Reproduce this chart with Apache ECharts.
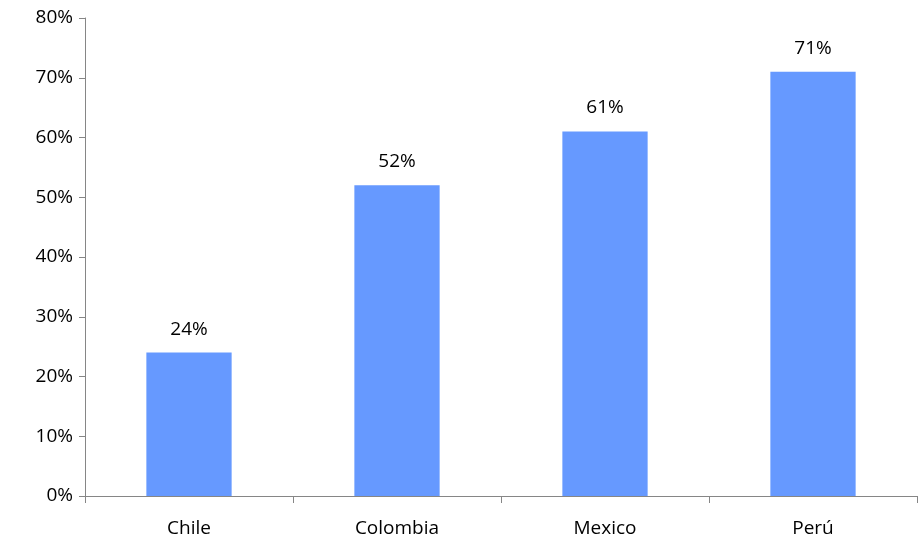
<!DOCTYPE html>
<html>
<head>
<meta charset="utf-8">
<script src="https://cdn.jsdelivr.net/npm/echarts@6/dist/echarts.min.js"></script>
<style>html,body{margin:0;padding:0;background:#fff}</style>
</head>
<body>
<div id="chart" style="width:918px;height:544px"></div>
<script>
const countries = ["Chile", "Colombia", "Mexico", "Perú"];
const shares = [24, 52, 61, 71];

const chart = echarts.init(document.getElementById("chart"));
const font = "Open Sans";
chart.setOption({
  animation: false,
  grid: { left: 85, right: 1, top: 18, bottom: 48 },
  xAxis: {
    type: "category",
    data: countries,
    axisLine: { lineStyle: { color: "#868686" } },
    axisTick: { show: true, length: 7, lineStyle: { color: "#868686" } },
    axisLabel: { color: "#000", fontFamily: font, fontSize: 19, margin: 23 }
  },
  yAxis: {
    type: "value",
    min: 0,
    max: 80,
    interval: 10,
    axisLine: { show: true, lineStyle: { color: "#868686" } },
    axisTick: { show: true, length: 6, lineStyle: { color: "#868686" } },
    splitLine: { show: false },
    axisLabel: { color: "#000", fontFamily: font, fontSize: 19, margin: 12, formatter: "{value}%" }
  },
  series: [{
    type: "bar",
    data: shares,
    barWidth: "41%",
    itemStyle: { color: "#6699FF", borderWidth: 0 },
    label: {
      show: true,
      position: "top",
      distance: 14,
      color: "#000",
      fontFamily: font,
      fontSize: 19,
      formatter: "{c}%"
    }
  }]
});
</script>
</body>
</html>
